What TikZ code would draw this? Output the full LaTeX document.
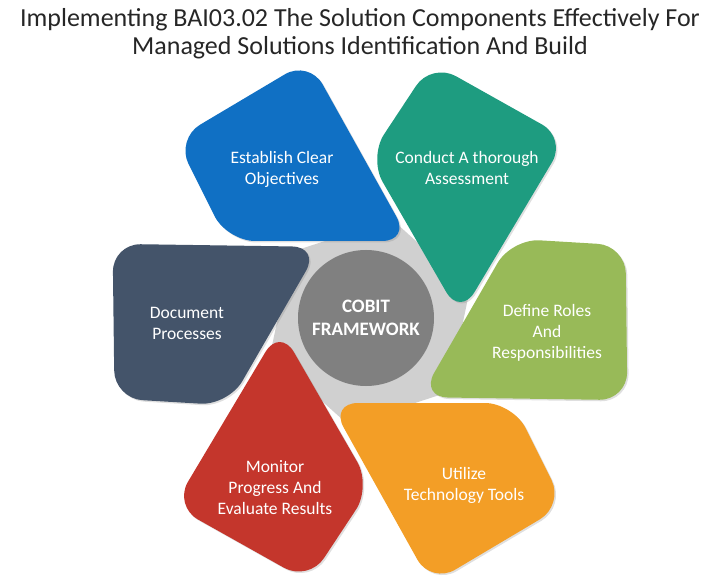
\documentclass[tikz,border=0pt]{standalone}
\usepackage{fontspec}
\setmainfont{Carlito}
\usepackage{tikz}
\usetikzlibrary{positioning}
\usetikzlibrary{shapes.geometric}
\usetikzlibrary{shadows}

\definecolor{cobblue}{RGB}{16,112,196}
\definecolor{cobteal}{RGB}{30,156,128}
\definecolor{cobgreen}{RGB}{152,186,88}
\definecolor{coborange}{RGB}{243,158,38}
\definecolor{cobred}{RGB}{196,54,44}
\definecolor{cobslate}{RGB}{68,84,106}
\definecolor{cobgray}{RGB}{128,128,128}
\definecolor{backgray}{RGB}{208,208,208}
\definecolor{titlegray}{RGB}{38,38,38}

\begin{document}
\begin{tikzpicture}[x=1pt,y=1pt,
                    petal/.style={rounded corners=28pt,
                                  drop shadow={shadow xshift=1.5pt, shadow yshift=-1.5pt, opacity=0.25}},
                    petaltext/.style={text=white, align=center,
                                      font=\fontsize{17.5}{21}\selectfont}]
  \useasboundingbox (0,0) rectangle (720,-577);
  \coordinate (hub) at (370,-322);
  % title
  \node[align=center, text=titlegray, font=\fontsize{26}{28}\selectfont] (title) at (360,-34)
    {Implementing BAI03.02 The Solution Components Effectively For\\Managed Solutions Identification And Build};
  % grey backing and the six petals
  \node[regular polygon, regular polygon sides=6, minimum size=210pt, fill=backgray, rotate=18] (back) at (hub) {};
  \foreach \ang/\col in {0/cobblue,-60/cobteal,-120/cobgreen,180/coborange,120/cobred,60/cobslate}
    \fill[petal, \col, rotate around={\ang:(hub)}] (309,-60) -- (176,-139) -- (227,-241) -- (410,-241) -- cycle;
  % centre
  \node[circle, fill=cobgray, minimum size=136pt, text=white, align=center,
        font=\bfseries\fontsize{19}{23.5}\selectfont] (core) at (366,-318) {COBIT\\FRAMEWORK};
  % petal texts
  \node[petaltext] (objectives) at (282,-169) {Establish Clear\\Objectives};
  \node[petaltext] (assessment) at (467,-168) {Conduct A thorough\\Assessment};
  \node[petaltext] (roles) at (547,-333) {Define Roles\\And\\Responsibilities};
  \node[petaltext] (tools) at (464,-485) {Utilize\\Technology Tools};
  \node[petaltext] (monitor) at (275,-488) {Monitor\\Progress And\\Evaluate Results};
  \node[petaltext] (processes) at (187,-323) {Document\\Processes};
\end{tikzpicture}
\end{document}
